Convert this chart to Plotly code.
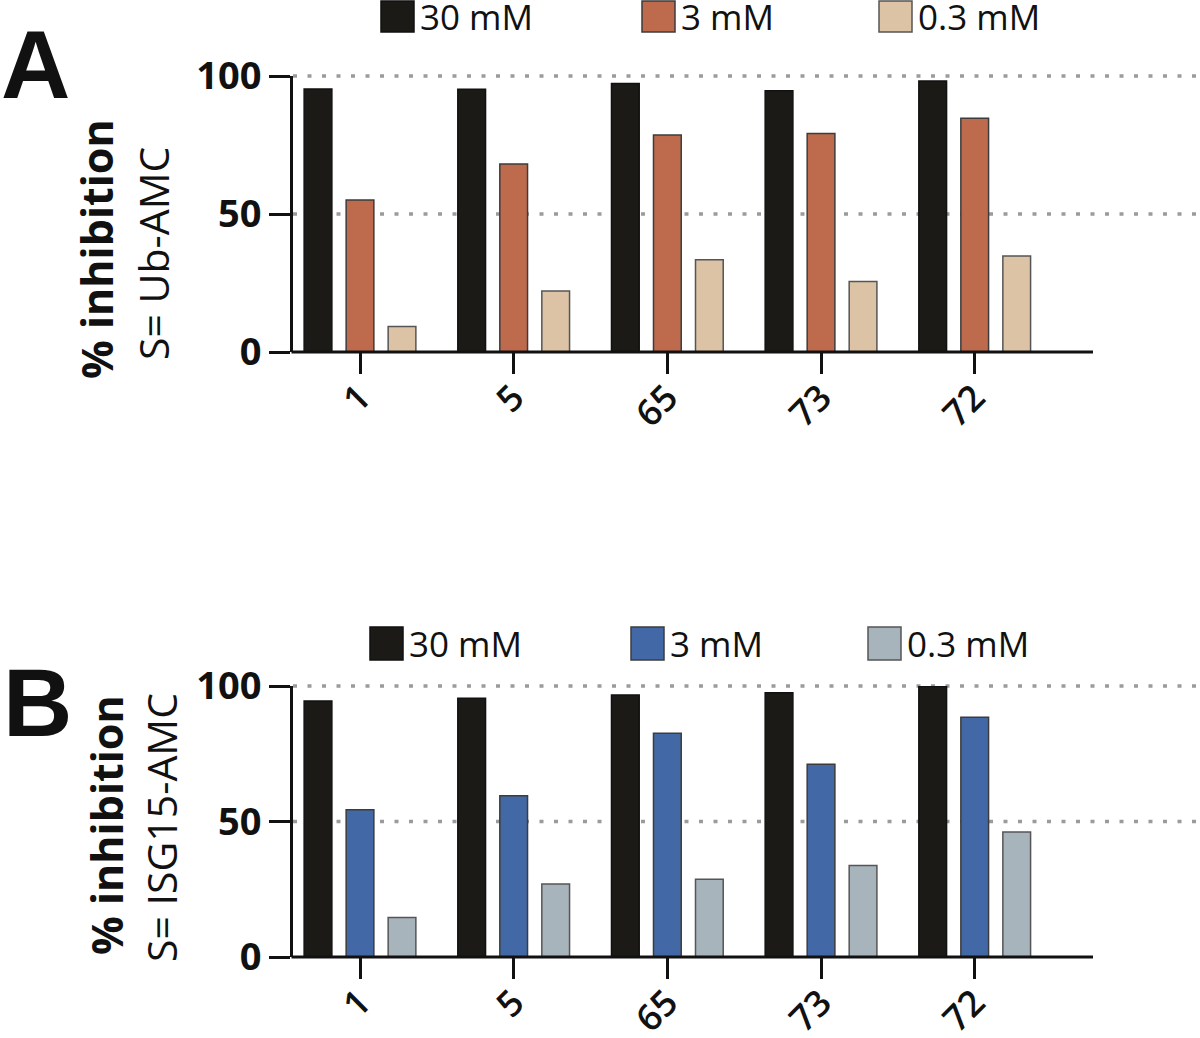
import plotly.graph_objects as go

# ---------------- data ----------------
compounds = ["1", "5", "65", "73", "72"]
concentrations = ["30 mM", "3 mM", "0.3 mM"]

# Panel A: S = Ub-AMC
ub_30 = [95.3, 95.2, 97.3, 94.7, 98.2]
ub_3 = [55.1, 68.1, 78.6, 79.2, 84.7]
ub_03 = [9.2, 22.1, 33.4, 25.5, 34.8]

# Panel B: S = ISG15-AMC
isg_30 = [94.5, 95.5, 96.7, 97.5, 99.8]
isg_3 = [54.3, 59.5, 82.6, 71.1, 88.5]
isg_03 = [14.6, 26.9, 28.7, 33.8, 46.1]

y_ticks = [0, 50, 100]
grid_vals = [50, 100]
Y_MAX = 100

colors_a = ["#1b1a17", "#bd6b4c", "#dcc3a5"]
colors_b = ["#1b1a17", "#4269a5", "#a7b4bc"]
outline = ["#111111", "#3c3c3c", "#555555"]

# ---------------- layout helpers ----------------
W, H = 1200, 1038


def px(p):
    return p / W


def py(p):
    return 1 - p / H


FONT = "Open Sans"
AX_LEFT = 293
AX_END = 1093
X_RANGE = [-0.436, 5.466]

fig = go.Figure()

panels = [
    dict(series=[ub_30, ub_3, ub_03], colors=colors_a, xa="x", ya="y"),
    dict(series=[isg_30, isg_3, isg_03], colors=colors_b, xa="x2", ya="y2"),
]

for p in panels:
    for name, vals, col, lc in zip(concentrations, p["series"], p["colors"], outline):
        fig.add_trace(go.Bar(
            x=compounds, y=vals, name=name,
            marker=dict(color=col, line=dict(color=lc, width=1.5)),
            xaxis=p["xa"], yaxis=p["ya"], showlegend=False,
        ))

common_x = dict(
    type="category", range=X_RANGE, domain=[px(AX_LEFT), 1.0],
    showline=False, showgrid=False, zeroline=False,
    ticks="outside", ticklen=21, tickwidth=3, tickcolor="#111111",
    tickangle=-45, ticklabelstandoff=-12,
    tickfont=dict(family=FONT, size=36, color="#111111", weight=600),
    automargin=False, fixedrange=True,
)
common_y = dict(
    range=[0, Y_MAX], tickvals=y_ticks, ticktext=[str(v) for v in y_ticks],
    showline=True, linewidth=3, linecolor="#111111", mirror=False,
    showgrid=False, zeroline=False,
    ticks="outside", ticklen=21, tickwidth=3, tickcolor="#111111",
    tickfont=dict(family=FONT, size=38, color="#111111", weight="bold"),
    automargin=False, fixedrange=True,
)

fig.update_layout(
    width=W, height=H,
    margin=dict(l=0, r=0, t=0, b=0),
    paper_bgcolor="white", plot_bgcolor="rgba(0,0,0,0)",
    barmode="group", bargap=0.18, bargroupgap=0.34,
    showlegend=False,
    xaxis=dict(common_x, anchor="y"),
    yaxis=dict(common_y, anchor="x", domain=[py(352), py(76)]),
    xaxis2=dict(common_x, anchor="y2"),
    yaxis2=dict(common_y, anchor="x2", domain=[py(957), py(686)]),
)

shapes = []
annotations = []

for ydom in ["y domain", "y2 domain"]:
    # dotted reference lines
    for v in grid_vals:
        shapes.append(dict(
            type="line", xref="paper", yref=ydom,
            x0=px(AX_LEFT), x1=1.0, y0=v / Y_MAX, y1=v / Y_MAX,
            line=dict(color="#9b9b9b", width=3.5, dash="4px,10.5px"),
            layer="below",
        ))
    # baseline (x axis line ending after last group)
    shapes.append(dict(
        type="line", xref="paper", yref=ydom,
        x0=px(AX_LEFT - 1.5), x1=px(AX_END), y0=0, y1=0,
        line=dict(color="#111111", width=3), layer="above",
    ))

# legends (one per panel)
legend_rows = [
    dict(xs=[381, 642, 879], y0=1, y1=32, colors=colors_a),
    dict(xs=[370, 631, 868], y0=627, y1=660, colors=colors_b),
]
for row in legend_rows:
    for name, x0, col, lc in zip(concentrations, row["xs"], row["colors"], outline):
        shapes.append(dict(
            type="rect", xref="paper", yref="paper",
            x0=px(x0), x1=px(x0 + 33), y0=py(row["y1"]), y1=py(row["y0"]),
            fillcolor=col, line=dict(color=lc, width=1.5),
        ))
        annotations.append(dict(
            xref="paper", yref="paper", x=px(x0 + 37), y=py((row["y0"] + row["y1"]) / 2),
            xanchor="left", yanchor="middle", showarrow=False, text=name,
            font=dict(family=FONT, size=35, color="#111111"),
        ))

# panel letters
for letter, cx, cy in [("A", 35, 64), ("B", 37, 702)]:
    annotations.append(dict(
        xref="paper", yref="paper", x=px(cx), y=py(cy),
        xanchor="center", yanchor="middle", showarrow=False, text=f"<b>{letter}</b>",
        font=dict(family="Liberation Sans", size=96, color="#111111"),
    ))

# y-axis titles
titles = [
    ("<b>% inhibition</b>", 97, 249, 43),
    ("S= Ub-AMC", 153, 254, 41),
    ("<b>% inhibition</b>", 106, 825, 43),
    ("S= ISG15-AMC", 161, 828, 41),
]
for text, cx, cy, size in titles:
    annotations.append(dict(
        xref="paper", yref="paper", x=px(cx), y=py(cy),
        xanchor="center", yanchor="middle", showarrow=False, text=text,
        textangle=-90, font=dict(family=FONT, size=size, color="#111111"),
    ))

fig.update_layout(shapes=shapes, annotations=annotations)

fig.write_html(
    "out.html",
    config={"displayModeBar": False},
    post_script="document.body.style.margin='0';document.body.style.overflow='hidden';",
)
